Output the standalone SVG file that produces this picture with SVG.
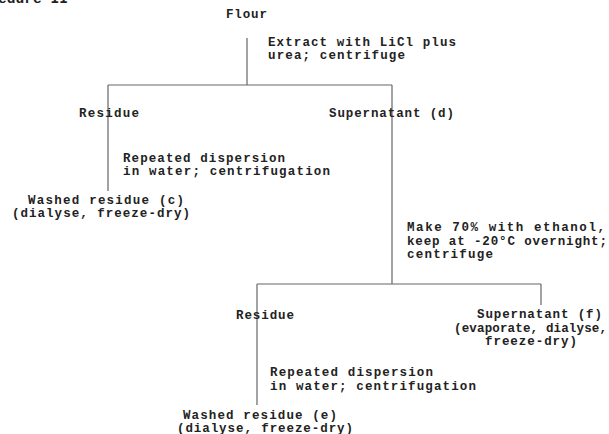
<svg xmlns="http://www.w3.org/2000/svg" width="609" height="434" viewBox="0 0 609 434">
<style>
text{font-family:"Liberation Mono","Courier New",monospace;font-size:12.5px;font-weight:bold;fill:#222}
.ln{stroke:#666;stroke-width:1.2;fill:none}
</style>
<rect width="609" height="434" fill="#fff"/>
<text x="-2" y="3" textLength="70" lengthAdjust="spacingAndGlyphs" style="font-size:14px">edure II</text>
<g id="connectors">
<path class="ln" d="M247,38V85M108,85H392M108,85V191M392,85V284M257,284H541M257,284V405M541,284V305"/>
</g>
<g id="flour"><text x="226" y="18" textLength="41">Flour</text></g>
<g id="step1"><text x="268" y="46" textLength="188">Extract with LiCl plus</text><text x="268" y="59" textLength="137">urea; centrifuge</text></g>
<g id="residue1"><text x="79" y="117" textLength="60">Residue</text></g>
<g id="supernatant-d"><text x="329" y="117" textLength="125">Supernatant (d)</text></g>
<g id="step2"><text x="123" y="162" textLength="162">Repeated dispersion</text><text x="123" y="175" textLength="207">in water; centrifugation</text></g>
<g id="washed-c"><text x="28" y="204" textLength="156">Washed residue (c)</text><text x="12" y="217" textLength="178">(dialyse, freeze-dry)</text></g>
<g id="step3"><text x="407" y="231" textLength="198">Make 70% with ethanol,</text><text x="407" y="245" textLength="200">keep at -20°C overnight;</text><text x="407" y="258" textLength="86">centrifuge</text></g>
<g id="residue2"><text x="236" y="319" textLength="58">Residue</text></g>
<g id="supernatant-f"><text x="477" y="318" textLength="125">Supernatant (f)</text><text x="454" y="332" textLength="153">(evaporate, dialyse,</text><text x="485" y="345" textLength="92">freeze-dry)</text></g>
<g id="step4"><text x="270" y="376" textLength="163">Repeated dispersion</text><text x="270" y="390" textLength="206">in water; centrifugation</text></g>
<g id="washed-e"><text x="183" y="419" textLength="154">Washed residue (e)</text><text x="177" y="432" textLength="176">(dialyse, freeze-dry)</text></g>
</svg>
